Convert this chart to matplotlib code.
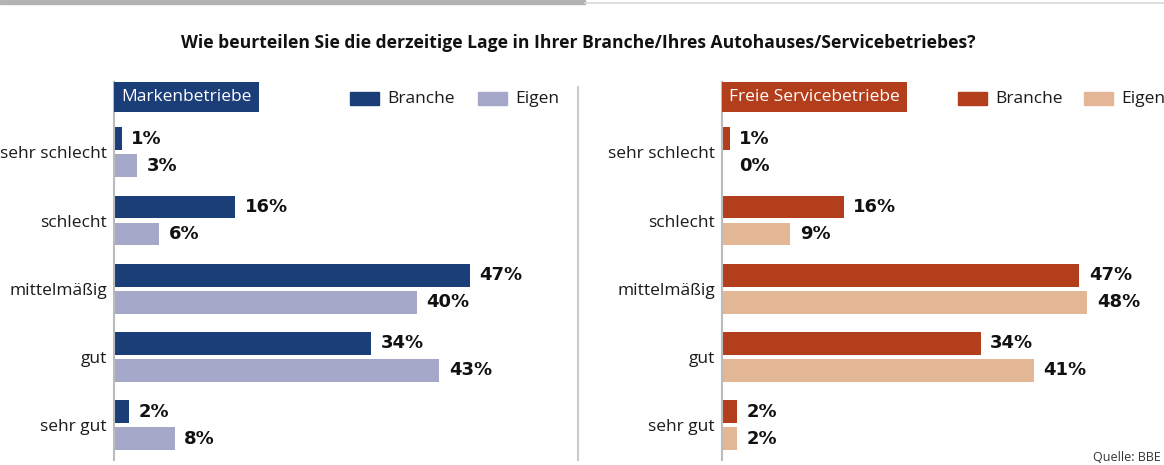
import matplotlib
matplotlib.use("Agg")
import matplotlib.pyplot as plt
from matplotlib.patches import Rectangle

categories = ["sehr schlecht", "schlecht", "mittelmäßig", "gut", "sehr gut"]
marken_branche = [1, 16, 47, 34, 2]
marken_eigen = [3, 6, 40, 43, 8]
freie_branche = [1, 16, 47, 34, 2]
freie_eigen = [0, 9, 48, 41, 2]

title = "Wie beurteilen Sie die derzeitige Lage in Ihrer Branche/Ihres Autohauses/Servicebetriebes?"
panel_titles = ["Markenbetriebe", "Freie Servicebetriebe"]
legend_labels = ["Branche", "Eigen"]
source = "Quelle: BBE"

blue_dark, blue_light = "#1B3D78", "#A5A8C8"
rust_dark, rust_light = "#B33E1B", "#E3B696"

plt.rcParams["font.family"] = ["Open Sans", "DejaVu Sans"]

W, H = 1164, 465
fig = plt.figure(figsize=(W / 100, H / 100), dpi=100)


def px_axes(x0, y0, x1, y1):
    # pixel box (top-left origin) -> figure axes
    return fig.add_axes([x0 / W, 1 - y1 / H, (x1 - x0) / W, (y1 - y0) / H])


def panel(x0, x1, xmax, branche, eigen, c_dark, c_light, name, leg_x):
    ax = px_axes(x0, 82, x1, 460)
    ypos = list(range(len(categories)))
    off = 0.198
    h = 0.333
    ax.barh([y - off for y in ypos], branche, height=h, color=c_dark)
    ax.barh([y + off for y in ypos], eigen, height=h, color=c_light)
    for y, vb, ve in zip(ypos, branche, eigen):
        ax.annotate(f"{vb}%", (vb, y - off), xytext=(7, 0), textcoords="offset points",
                    va="center", ha="left", fontsize=13, fontweight="bold",
                    family="DejaVu Sans", color="#111111")
        # zero bars: label sits where a 1% bar label would
        ax.annotate(f"{ve}%", (max(ve, 1), y + off), xytext=(7, 0), textcoords="offset points",
                    va="center", ha="left", fontsize=13, fontweight="bold",
                    family="DejaVu Sans", color="#111111")
    ax.set_xlim(0, xmax)
    ax.set_ylim(4.51, -1.03)
    ax.set_yticks(ypos)
    ax.set_yticklabels(categories, fontsize=12.5, color="#1A1A1A")
    ax.tick_params(axis="y", length=0, pad=5)
    ax.set_xticks([])
    for s in ["top", "right", "bottom"]:
        ax.spines[s].set_visible(False)
    ax.spines["left"].set_color("#BBBBBB")
    ax.spines["left"].set_linewidth(1.5)

    # header box
    ax.annotate(name, (0, -0.81), xytext=(5.3, 0), textcoords="offset points",
                fontsize=12.5, color="white", va="center", ha="left",
                bbox=dict(boxstyle="square,pad=0.42", fc=c_dark, ec="none"))

    # legend
    for lx, col, lab in zip(leg_x, [c_dark, c_light], legend_labels):
        fig.patches.append(Rectangle((lx / W, 1 - 105 / H), 29 / W, 13 / H,
                                     transform=fig.transFigure, color=col))
        fig.text((lx + 37) / W, 1 - 99 / H, lab, fontsize=12.5, color="#1A1A1A",
                 va="center", ha="left")
    return ax


panel(114, 568, 60, marken_branche, marken_eigen, blue_dark, blue_light,
      panel_titles[0], [350, 478])
panel(722, 1163, 58, freie_branche, freie_eigen, rust_dark, rust_light,
      panel_titles[1], [958, 1084])

fig.text(578 / W, 1 - 43 / H, title, fontsize=12.6, fontweight="bold",
         ha="center", va="center", color="#111111")

# separator between panels
fig.add_artist(plt.Line2D([578 / W, 578 / W], [1 - 460 / H, 1 - 87 / H],
                          color="#CCCCCC", lw=1.5))

# top strip
fig.patches.append(Rectangle((0, 1 - 4 / H), 585 / W, 4 / H,
                             transform=fig.transFigure, color="#B3B3B3"))
fig.add_artist(plt.Line2D([585 / W, 1], [1 - 3 / H, 1 - 3 / H],
                          color="#D8D8D8", lw=1.2))

fig.text(1161 / W, 1 - 464 / H, source, fontsize=9, ha="right", va="bottom",
         color="#333333")

fig.savefig("out.png", dpi=100)
